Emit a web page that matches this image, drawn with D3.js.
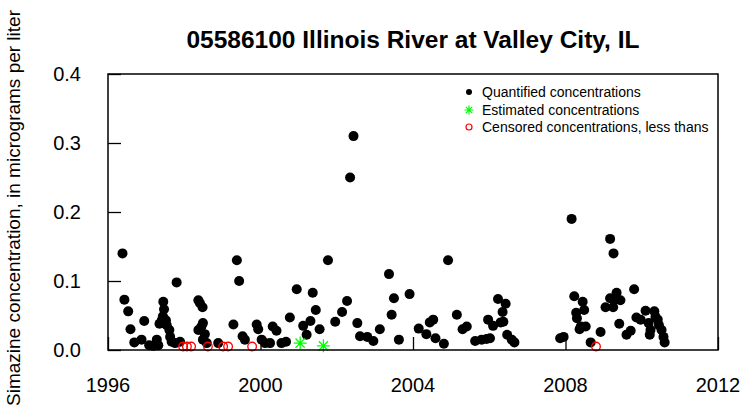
<!DOCTYPE html>
<html>
<head>
<meta charset="utf-8">
<script src="https://cdn.jsdelivr.net/npm/d3@7"></script>
<style>
  body { margin: 0; background: #fff; }
  text { font-family: "Liberation Sans", Arial, sans-serif; }
</style>
</head>
<body>
<script>

// values (decimal year, micrograms per liter)
const quantYears = [
  1996.38, 1996.43, 1996.53, 1996.59, 1996.69, 1996.88, 1996.95, 1997.08, 1997.19, 1997.28,
  1997.32, 1997.35, 1997.41, 1997.44, 1997.45, 1997.47, 1997.52, 1997.54, 1997.61, 1997.63,
  1997.67, 1997.76, 1997.80, 1997.89, 1998.37, 1998.41, 1998.48, 1998.49, 1998.45, 1998.37,
  1998.54, 1998.49, 1998.59, 1998.89, 1999.29, 1999.38, 1999.44, 1999.53, 1999.59, 1999.90,
  1999.94, 2000.03, 2000.12, 2000.25, 2000.32, 2000.42, 2000.55, 2000.67, 2000.77, 2000.95,
  2001.12, 2001.21, 2001.31, 2001.37, 2001.45, 2001.55, 2001.77, 2001.96, 2002.14, 2002.27,
  2002.35, 2002.44, 2002.54, 2002.61, 2002.80, 2002.96, 2003.13, 2003.37, 2003.44, 2003.50,
  2003.63, 2003.91, 2004.15, 2004.35, 2004.44, 2004.53, 2004.59, 2004.81, 2004.92, 2005.15,
  2005.30, 2005.41, 2005.63, 2005.80, 2005.93, 2005.97, 2006.02, 2006.10, 2006.23, 2006.30,
  2006.35, 2006.37, 2006.43, 2006.47, 2006.59, 2006.66, 2007.86, 2007.95, 2008.16, 2008.23,
  2008.28, 2008.30, 2008.37, 2008.40, 2008.45, 2008.49, 2008.53, 2008.66, 2008.92, 2009.05,
  2009.17, 2009.17, 2009.26, 2009.25, 2009.27, 2009.34, 2009.41, 2009.44, 2009.60, 2009.71,
  2009.80, 2009.86, 2009.97, 2010.10, 2010.18, 2010.21, 2010.23, 2010.33, 2010.36, 2010.42,
  2010.45, 2010.52, 2010.57, 2010.60
];
const quantValues = [
  0.140, 0.073, 0.056, 0.030, 0.011, 0.015, 0.042, 0.007, 0.006, 0.015,
  0.007, 0.038, 0.043, 0.049, 0.070, 0.059, 0.043, 0.036, 0.029, 0.019,
  0.012, 0.010, 0.098, 0.012, 0.072, 0.068, 0.062, 0.039, 0.034, 0.029,
  0.023, 0.015, 0.010, 0.010, 0.037, 0.130, 0.100, 0.020, 0.015, 0.037,
  0.030, 0.015, 0.010, 0.010, 0.034, 0.028, 0.010, 0.012, 0.047, 0.088,
  0.035, 0.022, 0.042, 0.083, 0.058, 0.030, 0.130, 0.041, 0.055, 0.071,
  0.250, 0.310, 0.039, 0.020, 0.019, 0.013, 0.030, 0.110, 0.051, 0.075,
  0.015, 0.081, 0.031, 0.023, 0.040, 0.044, 0.017, 0.009, 0.130, 0.051,
  0.030, 0.034, 0.013, 0.015, 0.016, 0.044, 0.017, 0.035, 0.074, 0.040,
  0.055, 0.041, 0.067, 0.022, 0.015, 0.011, 0.017, 0.019, 0.190, 0.078,
  0.054, 0.046, 0.030, 0.034, 0.070, 0.058, 0.034, 0.011, 0.026, 0.062,
  0.161, 0.075, 0.140, 0.062, 0.073, 0.083, 0.038, 0.072, 0.022, 0.028,
  0.088, 0.047, 0.044, 0.057, 0.039, 0.022, 0.029, 0.056, 0.048, 0.044,
  0.036, 0.029, 0.019, 0.011
];
const estYears = [2001.04, 2001.65];
const estValues = [0.010, 0.006];
const censYears = [1997.97, 1998.07, 1998.18, 1998.62, 1999.02, 1999.15, 1999.78, 2008.80];
const censValues = [0.005, 0.005, 0.005, 0.005, 0.005, 0.005, 0.005, 0.005];

const xTicks = [1996, 2000, 2004, 2008, 2012];
const yTicks = [0, 0.1, 0.2, 0.3, 0.4];
const legendLabels = ["Quantified concentrations", "Estimated concentrations", "Censored concentrations, less thans"];

const title = "05586100 Illinois River at Valley City, IL";
const yTitle = "Simazine concentration, in micrograms per liter";

let svg, x, y;
const w = 743, h = 418;
const box = { left: 108, right: 718, top: 74, bottom: 350 };
const tickLen = 13;

const toPoints = (years, values) => years.map((d, i) => ({ year: d, value: values[i] }));

const starPath = (s) => {
  const d = s * 0.7071;
  return `M${-s},0L${s},0M0,${-s}L0,${s}M${-d},${-d}L${d},${d}M${-d},${d}L${d},${-d}`;
}

const createSvg = () => {
  svg = d3.select("body")
    .append("svg")
    .attr("width", w)
    .attr("height", h);
}

const createScales = () => {
  x = d3.scaleLinear().domain([1996, 2012]).range([box.left, box.right]);
  y = d3.scaleLinear().domain([0, 0.4]).range([box.bottom, box.top]);
}

const createAxes = () => {
  // ticks point inward, labels set by hand like R
  const xAxis = d3.axisTop(x).tickValues(xTicks).tickSize(tickLen).tickFormat("");
  svg.append("g")
    .attr("transform", `translate(0, ${box.bottom})`)
    .call(xAxis)
    .call(g => g.select(".domain").remove())
    .call(g => g.selectAll("line").attr("stroke", "#000").attr("stroke-width", 1.3));

  const yAxis = d3.axisRight(y).tickValues(yTicks).tickSize(tickLen).tickFormat("");
  svg.append("g")
    .attr("transform", `translate(${box.left}, 0)`)
    .call(yAxis)
    .call(g => g.select(".domain").remove())
    .call(g => g.selectAll("line").attr("stroke", "#000").attr("stroke-width", 1.3));

  svg.selectAll(".xlab")
    .data(xTicks)
    .join("text")
    .attr("class", "xlab")
    .attr("x", d => x(d))
    .attr("y", 392)
    .attr("text-anchor", "middle")
    .style("font-size", "20px")
    .text(d => d);

  svg.selectAll(".ylab")
    .data(yTicks)
    .join("text")
    .attr("class", "ylab")
    .attr("x", 81)
    .attr("y", d => y(d) + 7)
    .attr("text-anchor", "end")
    .style("font-size", "20px")
    .text(d => d3.format(".1f")(d));

  svg.append("rect")
    .attr("x", box.left)
    .attr("y", box.top)
    .attr("width", box.right - box.left)
    .attr("height", box.bottom - box.top)
    .attr("fill", "none")
    .attr("stroke", "#000")
    .attr("stroke-width", 1.5);
}

const createPoints = () => {
  svg.append("g")
    .selectAll("circle")
    .data(toPoints(quantYears, quantValues))
    .join("circle")
    .attr("cx", d => x(d.year))
    .attr("cy", d => y(d.value))
    .attr("r", 5)
    .attr("fill", "#000");

  svg.append("g")
    .selectAll("path")
    .data(toPoints(estYears, estValues))
    .join("path")
    .attr("d", starPath(6.5))
    .attr("transform", d => `translate(${x(d.year)}, ${y(d.value)})`)
    .attr("stroke", "#00ff00")
    .attr("stroke-width", 1.3)
    .attr("fill", "none");

  svg.append("g")
    .selectAll("circle")
    .data(toPoints(censYears, censValues))
    .join("circle")
    .attr("cx", d => x(d.year))
    .attr("cy", d => y(d.value))
    .attr("r", 4.3)
    .attr("fill", "none")
    .attr("stroke", "#ff0000")
    .attr("stroke-width", 1.3);
}

const createText = () => {
  svg.append("text")
    .attr("x", (box.left + box.right) / 2)
    .attr("y", 48)
    .attr("text-anchor", "middle")
    .style("font-size", "24.5px")
    .style("font-weight", "bold")
    .text(title);

  svg.append("text")
    .attr("transform", `translate(20, 208) rotate(-90)`)
    .attr("text-anchor", "middle")
    .style("font-size", "19px")
    .text(yTitle);
}

const createLegend = () => {
  const lx = 469, ly = [92, 110, 127];
  const legend = svg.append("g");

  legend.append("circle")
    .attr("cx", lx).attr("cy", ly[0]).attr("r", 3)
    .attr("fill", "#000");
  legend.append("path")
    .attr("d", starPath(4.5))
    .attr("transform", `translate(${lx}, ${ly[1]})`)
    .attr("stroke", "#00ff00")
    .attr("stroke-width", 1.2);
  legend.append("circle")
    .attr("cx", lx).attr("cy", ly[2]).attr("r", 3)
    .attr("fill", "none")
    .attr("stroke", "#ff0000")
    .attr("stroke-width", 1.2);

  legend.selectAll("text")
    .data(legendLabels)
    .join("text")
    .attr("x", lx + 13)
    .attr("y", (d, i) => ly[i] + 5)
    .style("font-size", "14px")
    .text(d => d);
}

createSvg();
createScales();
createPoints();
createAxes();
createText();
createLegend();
</script>
</body>
</html>
